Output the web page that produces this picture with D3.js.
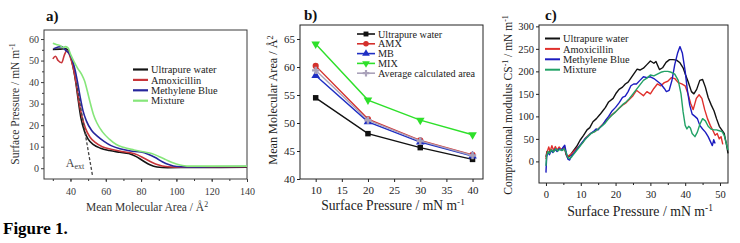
<!DOCTYPE html>
<html>
<head>
<meta charset="utf-8">
<script src="https://cdn.jsdelivr.net/npm/d3@7"></script>
<style>
  body { margin: 0; background: #fff; }
  svg { display: block; }
</style>
</head>
<body>
<svg id="fig" width="740" height="243"></svg>
<script>
// ---------- data, panel a: surface pressure isotherms [area, pressure]
const isoNames = ["Ultrapure water", "Amoxicillin", "Methylene Blue", "Mixture"];
const isoWater = [[30,55.2],[34,55.3],[37,55.5],[38.5,55],[40,52],[41.5,47],[43,40],[44.5,31],[46,23],[48,17],[50,13.5],[53,11],[57,9.3],[62,8.2],[68,7.4],[73,6.8],[77,5.5],[81,3.5],[85,1.6],[89,0.6],[95,0.3],[110,0.4],[125,0.4],[140,0.5]];
const isoAmx = [[30,50.8],[31.5,52],[33,50],[35,49],[36.5,52.5],[37.8,54.5],[39,53.5],[40.5,50],[42,45],[43.5,38],[45,30],[46.5,24],[48.5,18.5],[51,14.5],[54,12],[58,10],[63,8.8],[69,7.8],[74,7.2],[78,6.2],[82,4.5],[86,2.8],[90,1.5],[94,0.8],[100,0.5],[115,0.6],[140,0.7]];
const isoMb = [[30.5,55.5],[33,56.3],[35,56.5],[37,55],[39,53.5],[41,50.5],[42.5,46],[44,40],[45.5,33],[47,27],[49,22],[52,17.5],[55,15],[59,12.5],[63,10.5],[68,9],[74,8],[80,7.5],[84,6.5],[88,5],[92,3],[96,1.6],[100,0.8],[105,0.6],[120,0.7],[140,0.8]];
const isoMix = [[30,58],[32,57.5],[34,57],[36,56],[37,56.5],[38.5,56],[40,53],[42,49.5],[44,46.5],[46.4,43.5],[48,40.5],[49.5,36],[51,31],[53,25],[55,21],[58,17],[62,13.5],[66,11],[70,9.7],[76,8.5],[82,7.5],[86,6.8],[90,5.5],[94,4],[98,2.5],[102,1.5],[106,1],[115,1],[140,1]];
const tangentExt = [[43.4,39.5],[52.6,-4]];
const aXTicks = [40, 60, 80, 100, 120, 140];
const aYTicks = [0, 10, 20, 30, 40, 50, 60];

// ---------- data, panel b: mean molecular area at fixed pressures
const areaNames = ["Ultrapure water", "AMX", "MB", "MIX", "Average calculated area"];
const pressures = [10, 20, 30, 40];
const areaWater = [54.5, 48.1, 45.6, 43.5];
const areaAmx = [60.2, 50.7, 46.9, 44.3];
const areaMb = [58.5, 50.2, 46.6, 44.1];
const areaMix = [64.1, 54.1, 50.5, 47.9];
const areaAvg = [59.4, 50.5, 46.8, 44.2];
const bXTicks = [10, 15, 20, 25, 30, 35, 40];
const bYTicks = [40, 45, 50, 55, 60, 65];

// ---------- data, panel c: compressional modulus vs surface pressure
const csNames = ["Ultrapure water", "Amoxicillin", "Methylene Blue", "Mixture"];
const csWater = [[0,10],[0.3,22],[0.8,18],[1.3,26],[2,22],[2.6,27],[3.2,24],[4,28],[4.8,25],[5.3,30],[5.8,15],[6.5,10],[7.2,16],[8,25],[8.8,33],[9.8,47],[10.8,58],[11.8,70],[12.6,75],[13.5,88],[14.5,95],[15.5,104],[16.3,112],[17.1,120],[18,132],[19.3,140],[20.2,152],[21,160],[22,165],[22.8,172],[23.6,176],[24.5,186],[25.3,195],[26.2,205],[27,203],[28,207],[29,215],[30,223],[31,218],[31.6,222],[32.6,204],[33.5,208],[34.5,220],[35.5,226],[36.5,226],[37.5,225],[38.5,219],[39.4,208],[40.2,190],[40.9,176],[41.8,155],[42.5,150],[43.3,160],[44.2,180],[45,182],[45.8,165],[46.6,142],[47.5,125],[48.3,112],[49,95],[49.8,78],[50.5,70],[51.2,62],[51.8,40],[52.3,18]];
const csAmx = [[0,5],[0.3,20],[0.8,32],[1.2,22],[1.7,35],[2.2,24],[2.7,33],[3.2,25],[3.8,32],[4.4,26],[5,30],[5.5,27],[6,10],[6.8,14],[7.5,18],[8.2,24],[9,30],[9.8,36],[10.6,42],[11.4,52],[12.2,58],[13,63],[14,66],[15,72],[16,80],[17,88],[18,96],[19,104],[20,110],[21,118],[22,125],[23,130],[24,138],[25,146],[26,158],[27,152],[28,146],[29,155],[30,150],[31,162],[32,172],[33,168],[34,175],[35,178],[36,186],[37,184],[38,175],[39,172],[40,168],[40.8,150],[41.6,128],[42.3,115],[43.2,140],[44,148],[44.8,140],[45.6,115],[46.4,95],[47.2,80],[48,68],[48.6,58],[49.2,62],[49.8,50],[50.3,55],[50.8,38]];
const csMb = [[0,-25],[0.2,10],[0.6,20],[1,15],[1.5,24],[2,20],[2.6,27],[3.2,22],[3.8,28],[4.4,25],[5,32],[5.4,36],[5.8,20],[6.3,5],[6.8,3],[7.3,12],[8,18],[8.8,26],[9.6,34],[10.4,42],[11.2,50],[12,55],[12.8,62],[13.6,66],[14.4,72],[15,70],[15.6,76],[16.4,82],[17.2,92],[18,100],[19,112],[20,120],[21,130],[22,142],[22.8,145],[23.6,155],[24.4,168],[25.2,172],[26,172],[27,180],[28,188],[29,186],[30,188],[31,184],[32,178],[33,172],[34,162],[34.6,155],[35.4,158],[36.2,180],[37,215],[37.8,240],[38.5,255],[39.2,240],[40,200],[40.6,160],[41.3,125],[42,105],[42.8,100],[43.5,95],[44.2,80],[45,72],[45.8,65],[46.6,55],[47.2,45],[47.8,35],[48.2,48],[48.6,40]];
const csMix = [[0,-10],[0.2,12],[0.6,22],[1,18],[1.6,26],[2.2,21],[2.8,28],[3.4,23],[4,27],[4.6,24],[5.2,28],[5.7,22],[6.2,10],[6.8,6],[7.4,10],[8,16],[8.8,24],[9.6,32],[10.4,40],[11.2,48],[12,55],[13,62],[14,66],[15,72],[16,78],[17,85],[18,95],[19,103],[20,110],[21,118],[22,126],[23,132],[24,140],[25,150],[26,160],[27,170],[28,180],[29,185],[30,192],[31,190],[32,194],[33,198],[34,200],[35,200],[36,198],[37,194],[38,180],[38.8,150],[39.4,110],[40,80],[40.5,72],[41,78],[41.5,74],[42,62],[42.8,55],[43.5,65],[44.2,82],[45,95],[45.8,90],[46.6,78],[47.4,72],[48.2,70],[49,70],[49.8,68],[50.6,66],[51.2,58],[51.8,40],[52.3,25]];
const cXTicks = [0, 10, 20, 30, 40, 50];
const cYTicks = [0, 50, 100, 150, 200, 250, 300];

const serif = "'Liberation Serif', 'Times New Roman', serif";
const svg = d3.select("#fig");

// Box with major + minor ticks, Origin style
function drawFrame(box, x, y, o) {
    const g = svg.append("g");
    const bottom = (vals, size, fmt, pad) => g.append("g")
        .attr("transform", `translate(0,${box.bottom})`)
        .call(d3.axisBottom(x).tickValues(vals).tickSize(size).tickPadding(pad || 2).tickFormat(fmt));
    const left = (vals, size, fmt, pad) => g.append("g")
        .attr("transform", `translate(${box.left},0)`)
        .call(d3.axisLeft(y).tickValues(vals).tickSize(size).tickPadding(pad || 2).tickFormat(fmt));

    if (o.xMinor) bottom(o.xMinor, 2, () => "");
    if (o.yMinor) left(o.yMinor, 2, () => "");
    bottom(o.xTicks, 3, d3.format("d"), o.xPad);
    left(o.yTicks, 3, d3.format("d"), o.yPad);

    g.selectAll(".domain").remove();
    g.selectAll("g").attr("font-family", serif).attr("font-size", o.tickFont);
    g.selectAll(".tick line").attr("stroke", o.color);
    g.selectAll(".tick text").attr("fill", o.color);

    g.append("rect")
        .attr("x", box.left).attr("y", box.top)
        .attr("width", box.right - box.left).attr("height", box.bottom - box.top)
        .attr("fill", "none").attr("stroke", o.color).attr("stroke-width", 1);
}

// text with superscript parts: parts = [[text, isSup], ...]
function label(x, y, parts, size, o = {}) {
    const t = svg.append("text")
        .attr("x", x).attr("y", y)
        .attr("font-family", serif).attr("font-size", size)
        .attr("font-weight", o.bold ? "bold" : null)
        .attr("fill", o.color || "#111")
        .attr("text-anchor", o.anchor || "middle")
        .attr("dy", "0.35em");
    if (o.rotate) t.attr("transform", `rotate(-90,${x},${y})`);
    let up = false;
    parts.forEach(([s, sup]) => {
        const sp = t.append("tspan").text(s);
        if (sup) { sp.attr("font-size", size * 0.68).attr("dy", -size * 0.38); up = true; }
        else if (up) { sp.attr("dy", size * 0.38); up = false; }
    });
    return t;
}

// ===================== panel a =====================
{
    const box = {left: 44, right: 247, top: 30, bottom: 179};
    const x = d3.scaleLinear().domain([25, 140]).range([box.left, box.right]);
    const y = d3.scaleLinear().domain([-5, 64.2]).range([box.bottom, box.top]);
    const col = "#3a3a3a";
    drawFrame(box, x, y, {
        xTicks: aXTicks, yTicks: aYTicks,
        xMinor: d3.range(30, 140, 10), yMinor: d3.range(5, 60, 10),
        tickFont: 10, color: col, xPad: 6, yPad: 2
    });

    const line = d3.line().x(d => x(d[0])).y(d => y(d[1])).curve(d3.curveMonotoneX);
    const colors = ["#141414", "#c8353a", "#26269c", "#86e67a"];
    [isoWater, isoAmx, isoMb, isoMix].forEach((s, i) => {
        svg.append("path").datum(s).attr("d", line)
            .attr("fill", "none").attr("stroke", colors[i]).attr("stroke-width", 1.6);
    });

    // tangent giving A_ext
    svg.append("path").datum(tangentExt)
        .attr("d", d3.line().x(d => x(d[0])).y(d => y(d[1])))
        .attr("stroke", "#444").attr("stroke-width", 1.3).attr("stroke-dasharray", "3,2").attr("fill", "none");
    const t = svg.append("text").attr("x", x(37.3)).attr("y", y(0.6))
        .attr("font-family", serif).attr("font-size", 12).attr("fill", "#444");
    t.append("tspan").text("A");
    t.append("tspan").text("ext").attr("font-size", 8).attr("dy", 2);

    // legend
    isoNames.forEach((n, i) => {
        const ly = 69.5 + i * 10.4;
        svg.append("line").attr("x1", 133).attr("x2", 148).attr("y1", ly).attr("y2", ly)
            .attr("stroke", colors[i]).attr("stroke-width", 2.2);
        label(151, ly, [[n]], 10.4, {anchor: "start", color: "#222"});
    });

    label(15, 104, [["Surface Pressure / mN m"], ["-1", true]], 11.5, {rotate: true, color: "#333"});
    label(147, 207, [["Mean Molecular Area / Å"], ["2", true]], 11.5, {color: "#333"});
    label(46, 16, [["a)"]], 15, {anchor: "start", bold: true});
}

// ===================== panel b =====================
{
    const box = {left: 300, right: 483, top: 25, bottom: 179};
    const x = d3.scaleLinear().domain([7, 42]).range([box.left, box.right]);
    const y = d3.scaleLinear().domain([40, 67.5]).range([box.bottom, box.top]);
    drawFrame(box, x, y, {
        xTicks: bXTicks, yTicks: bYTicks, tickFont: 11, color: "#222", xPad: 4, yPad: 2
    });

    const series = [areaWater, areaAmx, areaMb, areaMix, areaAvg];
    const colors = ["#111111", "#d4302c", "#1f2fc4", "#2ee02a", "#aaa2ba"];
    const shapes = [
        {type: d3.symbolSquare, size: 30, rot: 0},
        {type: d3.symbolCircle, size: 30, rot: 0},
        {type: d3.symbolTriangle, size: 32, rot: 0},
        {type: d3.symbolTriangle, size: 32, rot: 180},
        {type: d3.symbolCross, size: 30, rot: 0}
    ];
    const line = d3.line().x((d, i) => x(pressures[i])).y(d => y(d));

    series.forEach((s, k) => {
        svg.append("path").datum(s).attr("d", line)
            .attr("fill", "none").attr("stroke", colors[k]).attr("stroke-width", 1.4);
        svg.selectAll(null).data(s).enter().append("path")
            .attr("d", d3.symbol().type(shapes[k].type).size(shapes[k].size))
            .attr("transform", (d, i) => `translate(${x(pressures[i])},${y(d)}) rotate(${shapes[k].rot})`)
            .attr("fill", colors[k]);
    });

    // legend
    areaNames.forEach((n, k) => {
        const ly = 34 + k * 9.8;
        svg.append("line").attr("x1", 357).attr("x2", 375).attr("y1", ly).attr("y2", ly)
            .attr("stroke", colors[k]).attr("stroke-width", 1.6);
        svg.append("path")
            .attr("d", d3.symbol().type(shapes[k].type).size(shapes[k].size * 0.8))
            .attr("transform", `translate(366,${ly}) rotate(${shapes[k].rot})`)
            .attr("fill", colors[k]);
        label(378, ly, [[n]], 10.2, {anchor: "start", color: "#222"});
    });

    label(273, 100, [["Mean Molecular Area / Å"], ["2", true]], 12.2, {rotate: true, color: "#222"});
    label(393, 205, [["Surface Pressure / mN m"], ["-1", true]], 13.6, {color: "#222"});
    label(304, 15, [["b)"]], 15, {anchor: "start", bold: true});
}

// ===================== panel c =====================
{
    const box = {left: 539, right: 728, top: 25, bottom: 183};
    const x = d3.scaleLinear().domain([-2, 52.3]).range([box.left, box.right]);
    const y = d3.scaleLinear().domain([-48, 303]).range([box.bottom, box.top]);
    drawFrame(box, x, y, {
        xTicks: cXTicks, yTicks: cYTicks, xMinor: d3.range(5, 52, 10),
        tickFont: 10.5, color: "#222", xPad: 5, yPad: 2
    });

    const line = d3.line().x(d => x(d[0])).y(d => y(d[1]));
    const colors = ["#121212", "#e0302c", "#1c1cc0", "#22a266"];
    [csWater, csAmx, csMb, csMix].forEach((s, i) => {
        svg.append("path").datum(s).attr("d", line)
            .attr("fill", "none").attr("stroke", colors[i]).attr("stroke-width", 1.4)
            .attr("stroke-linejoin", "round");
    });

    csNames.forEach((n, i) => {
        const ly = 38.5 + i * 10.4;
        svg.append("line").attr("x1", 545).attr("x2", 560).attr("y1", ly).attr("y2", ly)
            .attr("stroke", colors[i]).attr("stroke-width", 2);
        label(563, ly, [[n]], 10.4, {anchor: "start", color: "#222"});
    });

    label(508, 105, [["Compressional modulus  CS"], ["-1", true], [" / mN m"], ["-1", true]], 11.5, {rotate: true, color: "#222"});
    label(640, 211, [["Surface Pressure / mN m"], ["-1", true]], 13.8, {color: "#222"});
    label(545, 15, [["c)"]], 15, {anchor: "start", bold: true});
}

// caption
label(3, 228, [["Figure 1."]], 17, {anchor: "start", bold: true, color: "#000"});
</script>
</body>
</html>
